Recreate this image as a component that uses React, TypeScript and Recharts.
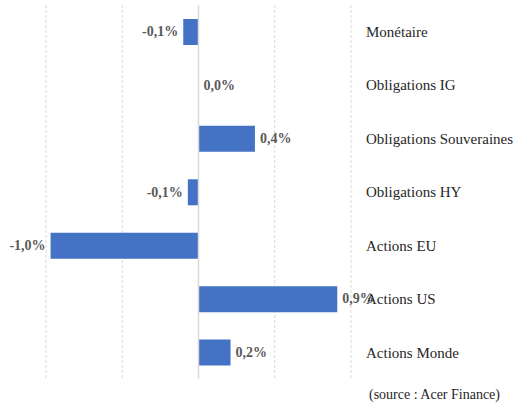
import { Bar, BarChart, CartesianGrid, ReferenceDot, ReferenceLine, XAxis, YAxis } from "recharts";

const CATEGORIES = [
  "Monétaire",
  "Obligations IG",
  "Obligations Souveraines",
  "Obligations HY",
  "Actions EU",
  "Actions US",
  "Actions Monde",
];
const VALUES = [-0.1, 0.0, 0.37, -0.07, -0.97, 0.91, 0.21];
const X_TICKS = [-1, -0.5, 0, 0.5, 1];
const SOURCE = "(source : Acer Finance)";

const data = CATEGORIES.map((name, i) => ({ name, value: VALUES[i] }));

const BAR = "#4472C4";
const GRID = "#d9d9d9";
const FONT = "'Liberation Serif', 'Times New Roman', serif";

const fmt = (v: number) => `${v.toFixed(1).replace(".", ",")}%`;

// label placed next to the end of the bar (dot sits at the bar end, r=1)
const valueLabel = (value: number) => (props: any) => {
  const { viewBox } = props;
  const cx = viewBox.x + viewBox.width / 2;
  const cy = viewBox.y + viewBox.height / 2;
  const neg = value < 0;
  return (
    <text
      x={neg ? cx - 5 : cx + 5}
      y={cy}
      textAnchor={neg ? "end" : "start"}
      dominantBaseline="central"
      fontFamily={FONT}
      fontSize={14}
      fontWeight="bold"
      fill="#595959"
    >
      {fmt(value)}
    </text>
  );
};

export default function App() {
  return (
    <div style={{ position: "fixed", left: 0, top: 0, width: 514, height: 406, background: "#fff" }}>
      <BarChart
        width={514}
        height={406}
        data={data}
        layout="vertical"
        margin={{ top: 5, right: 0, left: 46, bottom: 27 }}
      >
        <CartesianGrid horizontal={false} stroke={GRID} strokeDasharray="3 2" />
        <XAxis type="number" domain={[-1, 1]} ticks={X_TICKS} hide />
        <YAxis
          type="category"
          dataKey="name"
          orientation="right"
          width={163}
          axisLine={false}
          tickLine={false}
          tickSize={6}
          tickMargin={9}
          interval={0}
          tick={{ fontFamily: FONT, fontSize: 15, fill: "#262626", textAnchor: "start" }}
        />
        <ReferenceLine x={0} stroke={GRID} strokeWidth={1.5} />
        <Bar dataKey="value" fill={BAR} barSize={26} isAnimationActive={false} />
        {data.map((d) => (
          <ReferenceDot
            key={d.name}
            x={d.value}
            y={d.name}
            r={1}
            fill="none"
            stroke="none"
            label={valueLabel(d.value)}
          />
        ))}
      </BarChart>
      <div
        style={{
          position: "absolute",
          left: 369,
          top: 387,
          fontFamily: FONT,
          fontSize: 14,
          color: "#262626",
          whiteSpace: "nowrap",
        }}
      >
        {SOURCE}
      </div>
    </div>
  );
}
